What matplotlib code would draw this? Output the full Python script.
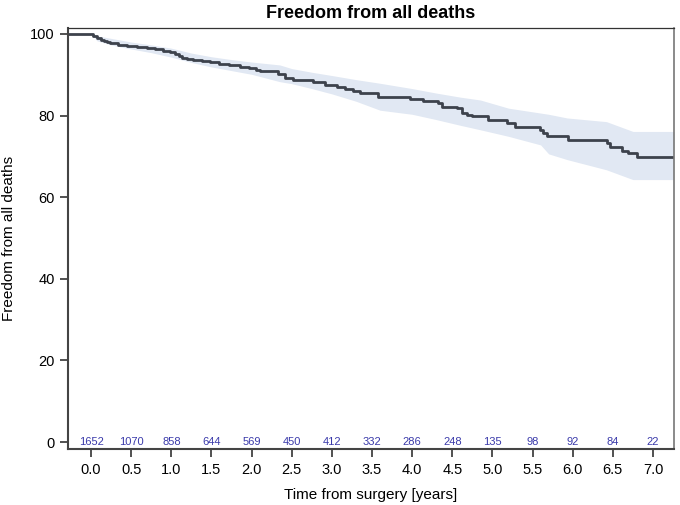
import matplotlib.pyplot as plt

plt.rcParams['font.family'] = ['Liberation Sans', 'DejaVu Sans']

# Kaplan-Meier estimate (step times in years, survival in %)
km_time = [-0.29, 0.03, 0.075, 0.12, 0.16, 0.20, 0.24, 0.34, 0.45, 0.57, 0.70, 0.80,
           0.90, 0.98, 1.04, 1.09, 1.13, 1.20, 1.27, 1.38, 1.48, 1.60, 1.72, 1.85,
           1.97, 2.06, 2.10, 2.33, 2.42, 2.51, 2.76, 2.91, 3.06, 3.16, 3.26, 3.35,
           3.57, 3.97, 4.13, 4.32, 4.37, 4.56, 4.62, 4.68, 4.74, 4.94, 5.18, 5.28,
           5.59, 5.63, 5.68, 5.94, 6.43, 6.46, 6.61, 6.69, 6.80, 7.26]
km_surv = [100.0, 99.5, 98.9, 98.6, 98.3, 98.0, 97.7, 97.4, 97.1, 96.8, 96.5, 96.2,
           95.9, 95.5, 95.0, 94.5, 94.2, 93.9, 93.6, 93.3, 93.1, 92.7, 92.3, 91.9,
           91.6, 91.2, 90.8, 90.2, 89.3, 88.8, 88.1, 87.5, 87.0, 86.5, 85.9, 85.5,
           84.5, 84.0, 83.6, 83.0, 82.2, 81.8, 80.7, 80.2, 79.8, 78.8, 78.1, 77.3,
           76.5, 75.7, 74.9, 74.1, 73.2, 72.3, 71.4, 70.8, 69.8, 69.8]

# confidence band
ci_time = [0.0, 0.075, 0.25, 0.5, 0.75, 1.0, 1.25, 1.5, 1.75, 2.0, 2.35, 2.5, 2.75,
           3.0, 3.3, 3.6, 4.0, 4.3, 4.6, 4.85, 5.2, 5.6, 5.7, 5.93, 6.42, 6.75, 7.26]
ci_upper = [100.0, 99.5, 98.9, 98.0, 97.3, 96.5, 95.3, 94.4, 93.7, 93.1, 92.4, 91.5,
            90.6, 89.8, 88.8, 87.9, 86.6, 85.5, 84.5, 83.8, 81.8, 80.6, 80.3, 79.4,
            78.5, 76.1, 76.1]
ci_lower = [100.0, 98.3, 97.3, 96.3, 95.4, 94.3, 93.0, 91.9, 91.0, 90.1, 88.3, 87.8,
            86.6, 85.3, 83.5, 81.3, 80.3, 79.0, 77.6, 76.5, 74.9, 72.8, 70.6, 69.2,
            66.7, 64.3, 64.3]

# number at risk
risk_time = [0.0, 0.5, 1.0, 1.5, 2.0, 2.5, 3.0, 3.5, 4.0, 4.5, 5.0, 5.5, 6.0, 6.5, 7.0]
risk_n = [1652, 1070, 858, 644, 569, 450, 412, 332, 286, 248, 135, 98, 92, 84, 22]

fig = plt.figure(figsize=(6.8, 5.05), dpi=100)
ax = fig.add_axes([0.1, 0.111, 0.891, 0.834])

ax.fill_between(ci_time, ci_lower, ci_upper, color='#e1e8f3', lw=0)
ax.step(km_time, km_surv, where='post', color='#3d424c', lw=2.0)

for t, n in zip(risk_time, risk_n):
    ax.text(t, 0, str(n), color='#3a3aaa', fontsize=8, ha='center', va='center')

ax.set_xlim(-0.287, 7.26)
ax.set_ylim(-1.7, 101.5)
ax.set_xticks(risk_time)
ax.set_xticklabels([f'{t:.1f}' for t in risk_time])
ax.set_yticks([0, 20, 40, 60, 80, 100])
ax.tick_params(direction='out', length=6, width=1.2, labelsize=10.5, color='#333333')
ax.tick_params(axis='x', pad=4)

for s in ['left', 'bottom']:
    ax.spines[s].set_color('#444444')
    ax.spines[s].set_linewidth(1.5)
ax.spines['top'].set_color('#333333')
ax.spines['top'].set_linewidth(0.9)
ax.spines['right'].set_color('#777777')
ax.spines['right'].set_linewidth(1.2)

ax.set_title('Freedom from all deaths', fontsize=13, fontweight='bold', pad=7)
ax.set_xlabel('Time from surgery [years]', fontsize=11, labelpad=8)
ax.set_ylabel('Freedom from all deaths', fontsize=11, labelpad=10)

fig.savefig('out.png', dpi=100)
